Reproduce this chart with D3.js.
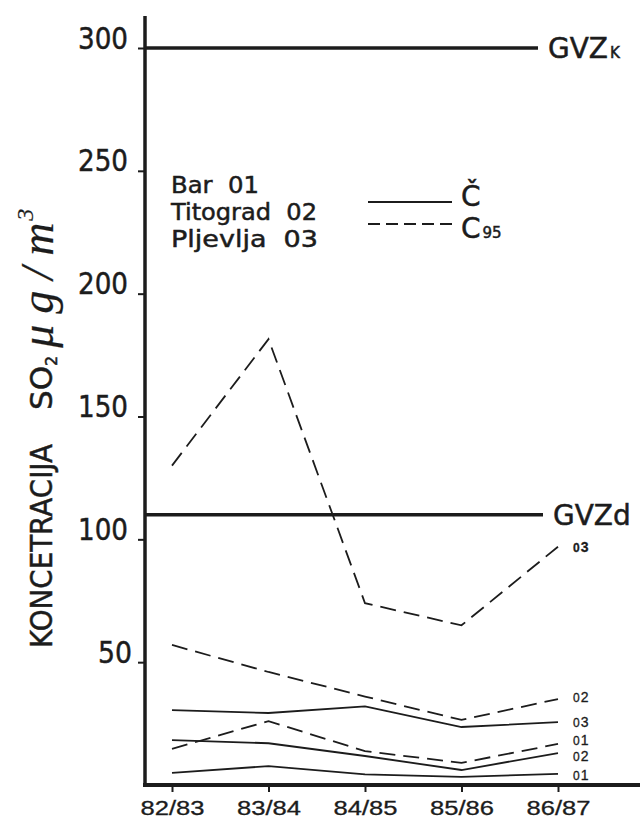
<!DOCTYPE html>
<html lang="sr">
<head>
    <meta charset="UTF-8">
    <title>Koncetracija SO2</title>
    <style>
        body {
            margin: 0;
            padding: 0;
            background: #fff;
        }
        svg text {
            font-family: "DejaVu Sans", sans-serif;
            fill: #1c1c1c;
            stroke: #1c1c1c;
            stroke-width: 0.5px;
        }
        .axis .domain {
            display: none;
        }
        .axis line {
            stroke: #1c1c1c;
            stroke-width: 2;
        }
        svg text.hand {
            font-family: "Liberation Sans", sans-serif;
            stroke-width: 0.3px;
        }
    </style>
</head>
<body>
<div id="chart"></div>
<script src="https://d3js.org/d3.v7.min.js"></script>
<script>
    // periods (zimske sezone)
    const periods = ["82/83", "83/84", "84/85", "85/86", "86/87"];

    // srednje vrijednosti (Č), µg/m3
    const barMean = [4.9, 7.7, 4.3, 3.3, 4.5];
    const titogradMean = [18.3, 17, 11.8, 6.1, 13];
    const pljevljaMean = [30.5, 29.3, 32, 23.6, 25.6];

    // 95-percentil (C95)
    const barC95 = [14.7, 26, 13.8, 9, 16.7];
    const titogradC95 = [57, 46, 36, 26.5, 35];
    const pljevljaC95 = [130, 181.5, 74, 65, 97];

    const yTicks = [50, 100, 150, 200, 250, 300];
    const limitValues = [300, 110];
    const limitNames = ["GVZ", "GVZd"];
    const limitSubs = ["K", ""];

    const legendStations = ["Bar  01", "Titograd  02", "Pljevlja  03"];

    const width = 640, height = 819;
    const ink = "#1c1c1c";

    const svg = d3.select("#chart").append("svg")
        .attr("width", width)
        .attr("height", height);

    const x = d3.scalePoint().domain(periods).range([172, 558]);
    const y = d3.scaleLinear().domain([0, 300]).range([785, 48]);

    // y axis ticks + labels
    const yAxis = svg.append("g")
        .attr("class", "axis")
        .attr("transform", "translate(145,0)")
        .call(d3.axisLeft(y).tickValues(yTicks).tickSize(7).tickPadding(10));
    yAxis.selectAll("text")
        .attr("dy", "0")
        .attr("x", -17)
        .attr("font-size", 31)
        .attr("textLength", 50)
        .attr("lengthAdjust", "spacingAndGlyphs")
        .attr("fill", ink)
        .each(function(d) {
            if (d === 50) d3.select(this).attr("textLength", 34).attr("x", -13);
        });

    // axis lines
    svg.append("line")
        .attr("x1", 145).attr("x2", 145)
        .attr("y1", y(313)).attr("y2", y(0) + 2)
        .attr("stroke", ink).attr("stroke-width", 3.5);
    svg.append("line")
        .attr("x1", 143).attr("x2", width)
        .attr("y1", y(0)).attr("y2", y(0))
        .attr("stroke", ink).attr("stroke-width", 4);

    // x axis ticks + labels
    const xAxis = svg.append("g")
        .attr("class", "axis")
        .attr("transform", `translate(0,${y(0)})`)
        .call(d3.axisBottom(x).tickSize(7).tickPadding(9));
    xAxis.selectAll("text")
        .attr("class", "hand")
        .attr("dy", "0.71em")
        .attr("font-size", 20)
        .attr("textLength", 64)
        .attr("lengthAdjust", "spacingAndGlyphs")
        .attr("fill", ink);

    // GVZ limit lines
    const limitEnd = [538, 543];
    limitValues.forEach((v, i) => {
        svg.append("line")
            .attr("x1", 145).attr("x2", limitEnd[i])
            .attr("y1", y(v)).attr("y2", y(v))
            .attr("stroke", ink).attr("stroke-width", 3.5);
        const t = svg.append("text")
            .attr("x", limitEnd[i] + 10)
            .attr("y", y(v) + 10)
            .attr("font-size", 28);
        t.append("tspan").text(limitNames[i]);
        if (limitSubs[i]) {
            t.append("tspan").attr("font-size", 15).attr("dx", 2).text(limitSubs[i]);
        }
    });

    // series (labelShift only nudges the end label so close ones don't collide)
    const series = [
        {values: barMean, dash: null, label: "1", labelShift: 1},
        {values: titogradMean, dash: null, label: "2", labelShift: 3},
        {values: pljevljaMean, dash: null, label: "3", labelShift: 0},
        {values: barC95, dash: "16,8", label: "1", labelShift: -4},
        {values: titogradC95, dash: "16,8", label: "2", labelShift: -2},
        {values: pljevljaC95, dash: "16,8", label: "3", labelShift: 0, bold: true}
    ];

    const line = d3.line()
        .x((d, i) => x(periods[i]))
        .y(d => y(d));

    series.forEach(s => {
        svg.append("path")
            .datum(s.values)
            .attr("d", line)
            .attr("fill", "none")
            .attr("stroke", ink)
            .attr("stroke-width", 1.8)
            .attr("stroke-dasharray", s.dash);

        const last = s.values[s.values.length - 1];
        const t = svg.append("text")
            .attr("class", "hand")
            .attr("x", x(periods[periods.length - 1]) + 15)
            .attr("y", y(last) + s.labelShift)
            .attr("dy", "0.35em")
            .attr("font-size", 14)
            .attr("font-weight", s.bold ? "bold" : "normal");
        t.append("tspan").attr("font-size", 12).text("0");
        t.append("tspan").attr("dx", 1).text(s.label);
    });

    // legend: stations
    svg.append("g").selectAll("text")
        .data(legendStations)
        .join("text")
        .attr("x", 171)
        .attr("y", (d, i) => 193 + i * 27)
        .attr("font-size", 23)
        .attr("textLength", (d, i) => [88, 146, 147][i])
        .attr("lengthAdjust", "spacingAndGlyphs")
        .attr("xml:space", "preserve")
        .text(d => d);

    // legend: line types
    svg.append("line")
        .attr("x1", 368).attr("x2", 452).attr("y1", 202).attr("y2", 202)
        .attr("stroke", ink).attr("stroke-width", 1.8);
    svg.append("line")
        .attr("x1", 368).attr("x2", 452).attr("y1", 224).attr("y2", 224)
        .attr("stroke", ink).attr("stroke-width", 1.8)
        .attr("stroke-dasharray", "12,6");
    svg.append("text")
        .attr("x", 461).attr("y", 206)
        .attr("font-size", 28)
        .text("Č");
    const c95 = svg.append("text")
        .attr("x", 461).attr("y", 238)
        .attr("font-size", 28);
    c95.append("tspan").text("C");
    c95.append("tspan").attr("font-size", 15).attr("dx", 2).text("95");

    // y title, rotated
    const title = svg.append("text")
        .attr("transform", "translate(52,648) rotate(-90)");
    title.append("tspan")
        .attr("font-size", 31)
        .attr("textLength", 204)
        .attr("lengthAdjust", "spacingAndGlyphs")
        .text("KONCETRACIJA");
    title.append("tspan")
        .attr("dx", 34)
        .attr("font-size", 31)
        .text("SO");
    title.append("tspan")
        .attr("font-size", 16)
        .attr("dy", 5)
        .text("2");
    title.append("tspan")
        .attr("dx", 8)
        .attr("dy", -4)
        .attr("font-size", 46)
        .attr("font-style", "italic")
        .attr("letter-spacing", 11)
        .attr("stroke-width", 0.2)
        .style("font-family", "'Liberation Serif', serif")
        .text("μg/m");
    title.append("tspan")
        .attr("font-size", 24)
        .attr("dx", -9)
        .attr("dy", -20)
        .attr("stroke-width", 0.2)
        .style("font-family", "'Liberation Serif', serif")
        .attr("font-style", "italic")
        .text("3");
</script>
</body>
</html>
